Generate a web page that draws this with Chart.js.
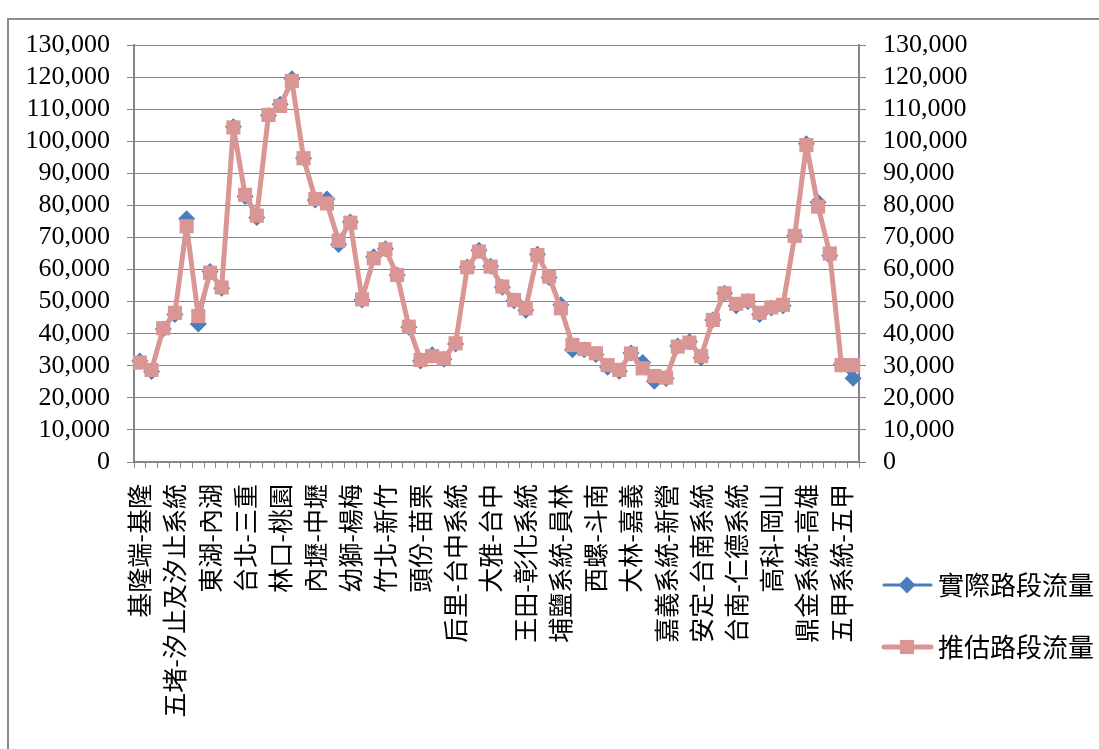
<!DOCTYPE html>
<html>
<head>
<meta charset="utf-8">
<script src="https://cdn.jsdelivr.net/npm/chart.js@4.4.1/dist/chart.umd.min.js"></script>
<style>
  html, body { margin: 0; padding: 0; background: #fff; }
  #wrap { position: relative; width: 1099px; height: 749px; overflow: hidden; }
  #frame { position: absolute; left: 7px; top: 18px; width: 1200px; height: 800px;
           border-left: 2px solid #8c8c8c; border-top: 2px solid #8c8c8c; }
  #flow { position: absolute; left: 0; top: 0; }
</style>
</head>
<body>
<div id="wrap">
  <div id="frame"></div>
  <canvas id="flow" width="1099" height="749"></canvas>
</div>
<script>
// labelled road sections (Excel shows every third category)
const tickLabels = [
  "基隆端-基隆", "五堵-汐止及汐止系統", "東湖-內湖", "台北-三重", "林口-桃園",
  "內壢-中壢", "幼獅-楊梅", "竹北-新竹", "頭份-苗栗", "后里-台中系統",
  "大雅-台中", "王田-彰化系統", "埔鹽系統-員林", "西螺-斗南", "大林-嘉義",
  "嘉義系統-新營", "安定-台南系統", "台南-仁德系統", "高科-岡山", "鼎金系統-高雄",
  "五甲系統-五甲"
];

const actualFlow = [
  31500, 28200, 41500, 46000, 75800, 43000, 59400, 54200, 104500, 82800,
  76200, 108000, 111500, 119500, 94700, 81700, 82000, 67800, 74800, 50500,
  64000, 66500, 58300, 42000, 31500, 33400, 32000, 36800, 60800, 66000,
  61000, 54500, 50300, 47300, 64800, 57500, 49000, 35000, 35000, 33500,
  29500, 28300, 34000, 31000, 25200, 26000, 36200, 37500, 32500, 44300,
  52600, 48700, 50000, 46000, 48000, 48700, 70500, 99200, 81000, 64300,
  30500, 26100
];

const estimatedFlow = [
  31000, 28700, 41700, 46500, 73500, 45500, 59000, 54400, 104300, 83300,
  76800, 108200, 111000, 118800, 94700, 82000, 80600, 69000, 74600, 50700,
  63500, 66300, 58300, 42200, 31800, 33000, 32300, 37000, 60700, 65600,
  60900, 54700, 50500, 47900, 64500, 57800, 47900, 36500, 35200, 33900,
  30200, 28700, 33800, 29200, 26800, 26300, 36000, 37200, 33000, 44300,
  52600, 49300, 50300, 46500, 48200, 49000, 70500, 98800, 79600, 65000,
  30200, 30200
];

const yMin = 0;
const yMax = 130000;
const yStep = 10000;

const labels = actualFlow.map((v, i) => (i % 3 === 0 ? tickLabels[i / 3] : ''));

const BLUE = '#4a7ebb';
const PINK = '#d99694';
const GRID = '#868686';
const numFont = { family: "'Liberation Serif', 'Times New Roman', serif", size: 26 };
const cjkFont = { family: "'Noto Sans CJK TC', 'Noto Sans CJK SC', sans-serif", size: 25 };

// legend drawn beside the right axis, like the Excel layout
const sideLegend = {
  id: 'sideLegend',
  afterDraw(chart) {
    const ctx = chart.ctx;
    chart.data.datasets.forEach((ds, i) => {
      const y = 585 + i * 62;
      ctx.save();
      ctx.strokeStyle = ds.borderColor;
      ctx.lineWidth = ds.borderWidth;
      ctx.lineCap = 'round';
      ctx.beginPath();
      ctx.moveTo(884, y);
      ctx.lineTo(931, y);
      ctx.stroke();
      ctx.fillStyle = ds.borderColor;
      Chart.helpers.drawPoint(ctx, {
        pointStyle: ds.pointStyle, radius: ds.pointRadius, borderWidth: 0, rotation: 0
      }, 907, y);
      ctx.fillStyle = '#000';
      ctx.font = '26px ' + cjkFont.family;
      ctx.textBaseline = 'middle';
      ctx.fillText(ds.label, 938, y);
      ctx.restore();
    });
  }
};

new Chart(document.getElementById('flow'), {
  type: 'line',
  data: {
    labels: labels,
    datasets: [
      {
        label: '實際路段流量',
        data: actualFlow,
        borderColor: BLUE,
        backgroundColor: BLUE,
        borderWidth: 3,
        borderJoinStyle: 'round',
        pointStyle: 'rectRot',
        pointRadius: 8.5,
        pointBorderWidth: 0,
        tension: 0,
        order: 2,
        yAxisID: 'y'
      },
      {
        label: '推估路段流量',
        data: estimatedFlow,
        borderColor: PINK,
        backgroundColor: PINK,
        borderWidth: 5,
        borderJoinStyle: 'round',
        pointStyle: 'rect',
        pointRadius: 10,
        pointBorderWidth: 0,
        tension: 0,
        order: 1,
        yAxisID: 'y2'
      }
    ]
  },
  options: {
    responsive: false,
    animation: false,
    layout: { padding: { top: 45, left: 0, right: 0, bottom: 0 } },
    plugins: { legend: { display: false }, tooltip: { enabled: false } },
    scales: {
      x: {
        offset: true,
        grid: { offset: true, drawOnChartArea: false, drawTicks: true, tickLength: 6, color: GRID },
        border: { display: true, color: GRID, width: 2 },
        ticks: {
          autoSkip: false, minRotation: 90, maxRotation: 90, padding: 16,
          color: '#000', font: cjkFont
        },
        afterFit(s) { s.height = 287; }
      },
      y: {
        position: 'left',
        min: yMin, max: yMax,
        grid: { color: GRID, lineWidth: 1, tickLength: 7 },
        border: { display: true, color: GRID, width: 2 },
        ticks: {
          autoSkip: false, stepSize: yStep, padding: 17, color: '#000', font: numFont,
          callback: v => v.toLocaleString('en-US')
        },
        afterFit(s) { s.width = 134; }
      },
      y2: {
        position: 'right',
        min: yMin, max: yMax,
        grid: { drawOnChartArea: false, color: GRID, tickLength: 7 },
        border: { display: true, color: GRID, width: 2 },
        ticks: {
          autoSkip: false, stepSize: yStep, padding: 17, color: '#000', font: numFont,
          callback: v => v.toLocaleString('en-US')
        },
        afterFit(s) { s.width = 240; }
      }
    }
  },
  plugins: [sideLegend]
});
</script>
</body>
</html>
